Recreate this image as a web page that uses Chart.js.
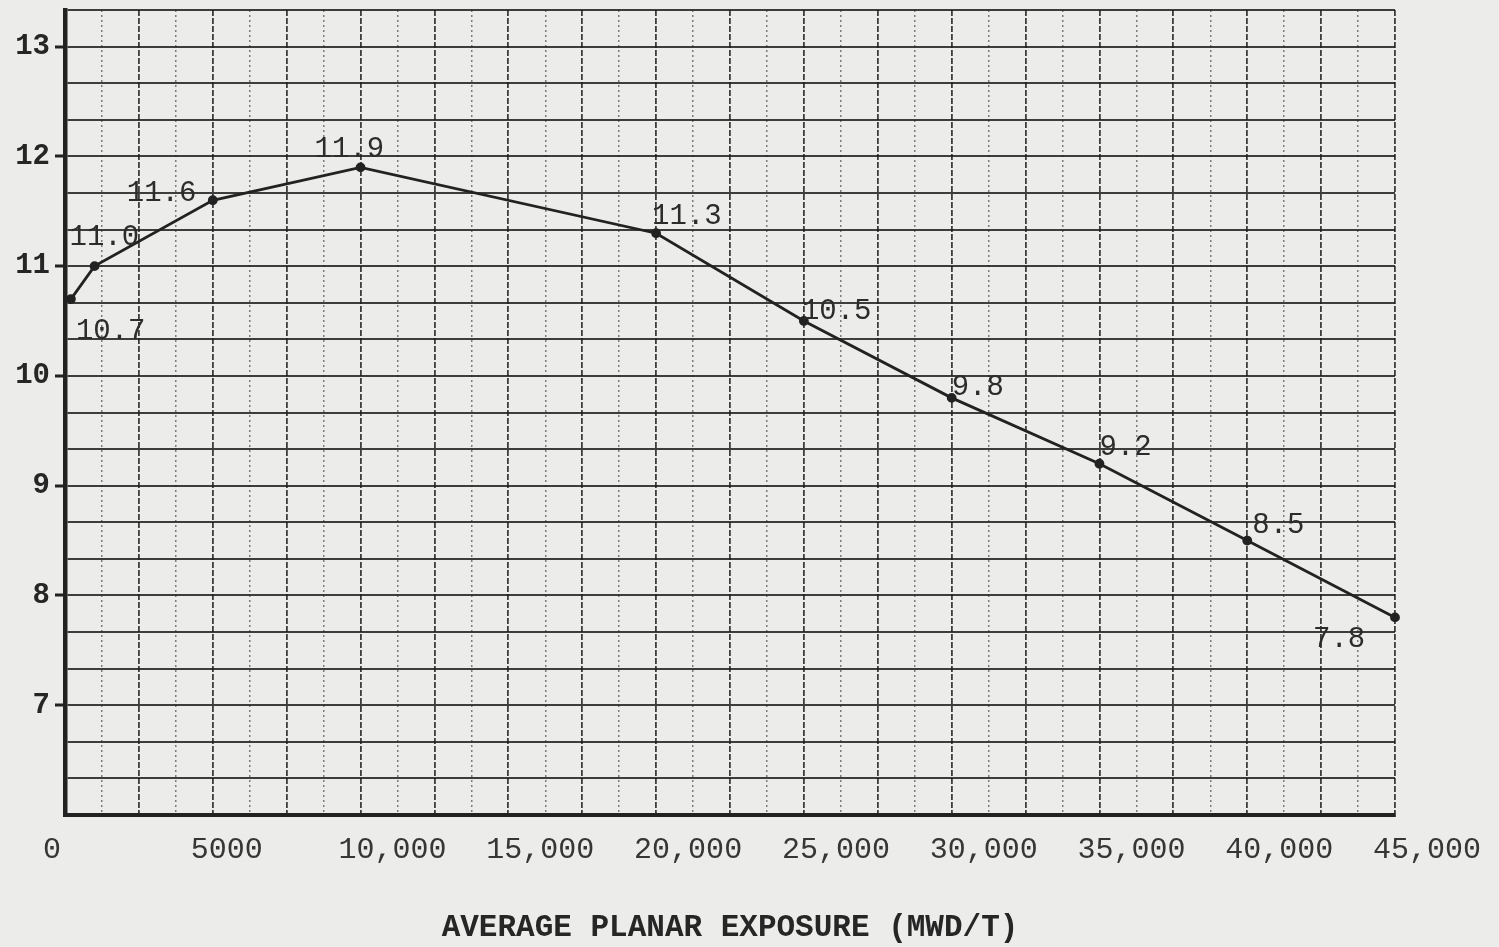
<!DOCTYPE html>
<html>
<head>
<meta charset="utf-8">
<script src="https://cdn.jsdelivr.net/npm/chart.js@4.4.1/dist/chart.umd.min.js"></script>
<style>
  html, body { margin: 0; padding: 0; background: #ececea; }
  #wrap { width: 1499px; height: 947px; }
</style>
</head>
<body>
<div id="wrap"><canvas id="exposureChart" width="1499" height="947"></canvas></div>
<script>
/// === DATA === ///
const exposure = [200, 1000, 5000, 10000, 20000, 25000, 30000, 35000, 40000, 45000];
const limitValues = [10.7, 11.0, 11.6, 11.9, 11.3, 10.5, 9.8, 9.2, 8.5, 7.8];
const pointLabels = ["10.7", "11.0", "11.6", "11.9", "11.3", "10.5", "9.8", "9.2", "8.5", "7.8"];

const xTickValues = [0, 5000, 10000, 15000, 20000, 25000, 30000, 35000, 40000, 45000];
const xTickLabels = ["0", "5000", "10,000", "15,000", "20,000", "25,000", "30,000", "35,000", "40,000", "45,000"];
const yTickValues = [7, 8, 9, 10, 11, 12, 13];
const yTickLabels = ["7", "8", "9", "10", "11", "12", "13"];
const xGridStep = 1250;
const yGridStep = 1 / 3;
const axisTitle = "AVERAGE PLANAR EXPOSURE (MWD/T)";

const MONO = "'Liberation Mono', 'DejaVu Sans Mono', monospace";
const INK = "#222222";

// where each value label sits relative to its point (px)
const labelOffsets = [
  [5, 32], [-25, -29], [-86, -7], [-46, -18], [-4, -17],
  [-2, -10], [0, -11], [0, -16], [5, -15], [-82, 22],
];

const pointLabelPlugin = {
  id: "pointLabels",
  afterDatasetsDraw(chart) {
    const { ctx } = chart;
    const meta = chart.getDatasetMeta(0);
    ctx.save();
    ctx.font = "29px " + MONO;
    ctx.fillStyle = "#2c2c2c";
    ctx.textAlign = "left";
    ctx.textBaseline = "middle";
    meta.data.forEach((pt, i) => {
      const [dx, dy] = labelOffsets[i];
      ctx.fillText(pointLabels[i], pt.x + dx, pt.y + dy);
    });
    ctx.restore();
  },
};

const isMultiple = (v, step) => Math.abs(v / step - Math.round(v / step)) < 1e-6;

new Chart(document.getElementById("exposureChart"), {
  type: "scatter",
  data: {
    datasets: [
      {
        label: "Limit",
        data: exposure.map((x, i) => ({ x: x, y: limitValues[i] })),
        showLine: true,
        clip: false,
        borderColor: INK,
        borderWidth: 2.8,
        backgroundColor: INK,
        pointRadius: 3.5,
        pointHoverRadius: 3.5,
        tension: 0,
      },
    ],
  },
  options: {
    responsive: false,
    animation: false,
    layout: { padding: { left: 0, right: 104, top: 10, bottom: 0 } },
    plugins: {
      legend: { display: false },
      tooltip: { enabled: false },
    },
    scales: {
      x: {
        type: "linear",
        min: 0,
        max: 45000,
        afterBuildTicks: (scale) => {
          const ticks = [];
          for (let v = 0; v <= 45000; v += xGridStep) ticks.push({ value: v });
          scale.ticks = ticks;
        },
        afterFit: (scale) => {
          scale.height = 132;
          scale.paddingLeft = 0;
          scale.paddingRight = 0;
        },
        ticks: {
          autoSkip: false,
          maxRotation: 0,
          align: "start",
          labelOffset: -22,
          padding: 17,
          color: "#363636",
          font: { family: MONO, size: 30 },
          callback: (value) => {
            const i = xTickValues.indexOf(value);
            return i >= 0 ? xTickLabels[i] : "";
          },
        },
        grid: {
          drawTicks: false,
          color: (ctx) => {
            if (!ctx.tick) return "rgba(30,30,30,0.85)";
            return isMultiple(ctx.tick.value, 2500) ? "rgba(30,30,30,0.85)" : "rgba(50,50,50,0.6)";
          },
          lineWidth: (ctx) => {
            if (!ctx.tick) return 1.8;
            return isMultiple(ctx.tick.value, 2500) ? 1.8 : 1.5;
          },
        },
        border: {
          display: true,
          color: INK,
          width: 4,
          dash: (ctx) => {
            if (!ctx.tick) return [];
            return isMultiple(ctx.tick.value, 2500) ? [6, 2] : [2, 3];
          },
        },
        title: {
          display: true,
          text: axisTitle,
          color: "#262626",
          font: { family: MONO, size: 31, weight: "bold" },
          padding: { top: 0, bottom: 0 },
        },
      },
      y: {
        type: "linear",
        min: 6,
        max: 6 + 22 * yGridStep,
        afterBuildTicks: (scale) => {
          const ticks = [];
          for (let i = 0; i <= 22; i++) ticks.push({ value: 6 + i * yGridStep });
          scale.ticks = ticks;
        },
        afterFit: (scale) => {
          scale.width = 65;
          scale.paddingTop = 0;
          scale.paddingBottom = 0;
        },
        ticks: {
          autoSkip: false,
          padding: 5,
          color: "#262626",
          font: { family: MONO, size: 29, weight: "bold" },
          callback: (value) => {
            const i = yTickValues.findIndex((t) => Math.abs(t - value) < 1e-6);
            return i >= 0 ? yTickLabels[i] : "";
          },
        },
        grid: {
          drawTicks: true,
          tickLength: 10,
          tickWidth: 3,
          tickColor: (ctx) => {
            if (!ctx.tick) return "rgba(0,0,0,0)";
            return yTickValues.some((t) => Math.abs(t - ctx.tick.value) < 1e-6) ? INK : "rgba(0,0,0,0)";
          },
          color: "rgba(30,30,30,0.85)",
          lineWidth: 2,
        },
        border: {
          display: true,
          color: INK,
          width: 4.5,
        },
      },
    },
  },
  plugins: [pointLabelPlugin],
});
</script>
</body>
</html>
